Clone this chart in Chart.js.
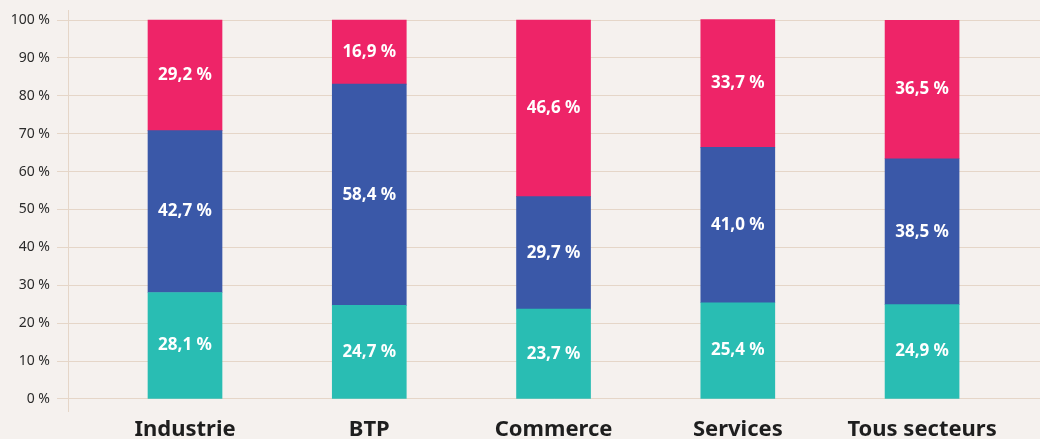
<!DOCTYPE html>
<html>
<head>
<meta charset="utf-8">
<script src="https://cdn.jsdelivr.net/npm/chart.js@4/dist/chart.umd.min.js"></script>
<style>
  html, body { margin: 0; padding: 0; background: #f5f1ee; }
  #wrap { width: 1040px; height: 439px; }
</style>
</head>
<body>
<div id="wrap"><canvas id="secteursChart" width="1040" height="439"></canvas></div>
<script>
// categories and shares (%), bottom to top
const categories = ['Industrie', 'BTP', 'Commerce', 'Services', 'Tous secteurs'];
const seriesNames = ['Série 1', 'Série 2', 'Série 3'];
const bottomValues = [28.1, 24.7, 23.7, 25.4, 24.9];
const middleValues = [42.7, 58.4, 29.7, 41.0, 38.5];
const topValues = [29.2, 16.9, 46.6, 33.7, 36.5];
const yTicks = [0, 10, 20, 30, 40, 50, 60, 70, 80, 90, 100];

const colors = ['#29bdb3', '#3a58a8', '#ee2468'];
const fontFamily = '"Noto Sans", "Open Sans", sans-serif';

function toPoints(values) {
    return values.map((v, i) => ({ x: i, y: v }));
}

function fmt(v) {
    return v.toFixed(1).replace('.', ',') + ' %';
}

// white value labels centred in each segment
const segmentLabels = {
    id: 'segmentLabels',
    afterDatasetsDraw(chart) {
        const ctx = chart.ctx;
        ctx.save();
        ctx.fillStyle = '#ffffff';
        ctx.font = 'bold 17px ' + fontFamily;
        ctx.textAlign = 'center';
        ctx.textBaseline = 'middle';
        chart.data.datasets.forEach((ds, di) => {
            chart.getDatasetMeta(di).data.forEach((bar, i) => {
                const p = bar.getProps(['x', 'y', 'base'], true);
                ctx.fillText(fmt(ds.data[i].y), p.x, (p.y + p.base) / 2);
            });
        });
        ctx.restore();
    }
};

const ctx = document.getElementById('secteursChart').getContext('2d');

new Chart(ctx, {
    type: 'bar',
    data: {
        datasets: [
            { label: seriesNames[0], data: toPoints(bottomValues), backgroundColor: colors[0] },
            { label: seriesNames[1], data: toPoints(middleValues), backgroundColor: colors[1] },
            { label: seriesNames[2], data: toPoints(topValues), backgroundColor: colors[2] }
        ]
    },
    options: {
        responsive: false,
        animation: false,
        layout: { autoPadding: false, padding: { top: 10, left: 0, right: 0, bottom: 0 } },
        datasets: { bar: { barThickness: 74, borderWidth: 0 } },
        plugins: {
            legend: { display: false },
            tooltip: { enabled: false }
        },
        scales: {
            x: {
                type: 'linear',
                stacked: true,
                offset: false,
                min: -0.635,
                max: 4.64,
                afterBuildTicks: axis => { axis.ticks = categories.map((c, i) => ({ value: i })); },
                afterFit: axis => { axis.height = 28; },
                grid: { display: false, drawTicks: false, offset: false },
                border: { display: false },
                ticks: {
                    autoSkip: false,
                    maxRotation: 0,
                    padding: 8,
                    color: '#1e1e1e',
                    font: { family: fontFamily, size: 22, weight: 'bold', lineHeight: 1 },
                    callback: v => categories[v]
                }
            },
            y: {
                stacked: true,
                min: -3.17,
                max: 102.64,
                afterBuildTicks: axis => { axis.ticks = yTicks.map(v => ({ value: v })); },
                afterFit: axis => {
                    axis.width = 68;
                    axis.paddingTop = 0;
                    axis.paddingBottom = 0;
                },
                grid: { color: '#e5d6c8', lineWidth: 1, tickLength: 11 },
                border: { display: true, color: '#e5d6c8', width: 1 },
                ticks: {
                    padding: 7,
                    color: '#2b2b2b',
                    font: { family: fontFamily, size: 14 },
                    callback: v => v + ' %'
                }
            }
        }
    },
    plugins: [segmentLabels]
});
</script>
</body>
</html>
